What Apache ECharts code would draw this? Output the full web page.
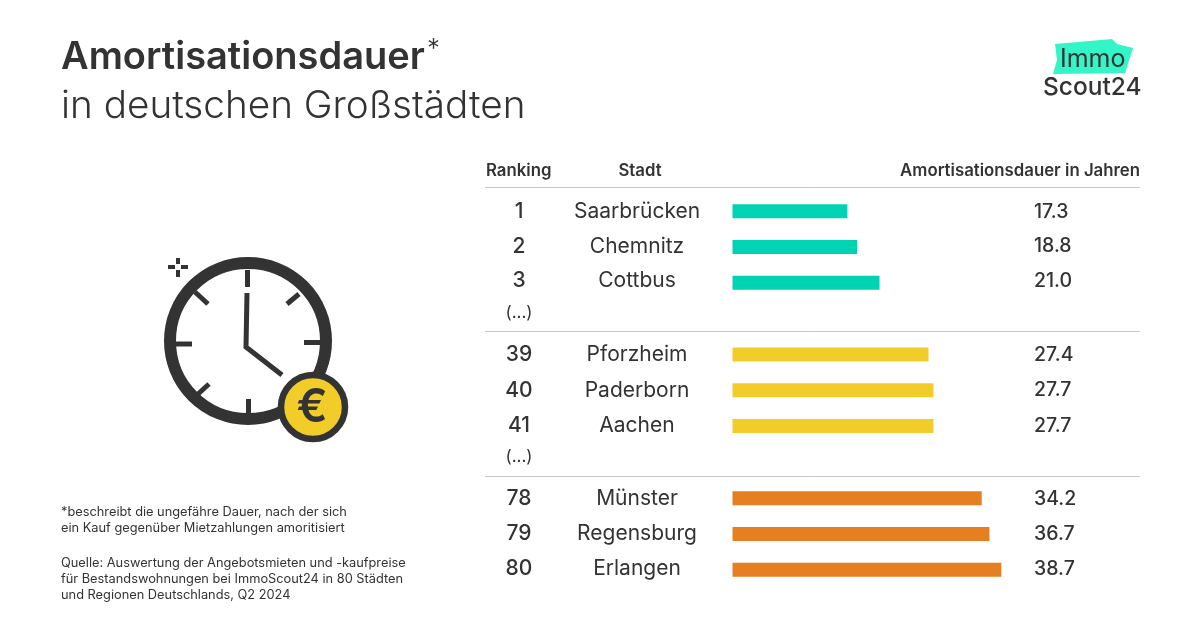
<!DOCTYPE html>
<html lang="de">
<head>
<meta charset="utf-8">
<title>Amortisationsdauer</title>
<script src="https://cdn.jsdelivr.net/npm/echarts@6/dist/echarts.min.js"></script>
<style>html,body{margin:0;padding:0;background:#fff}#c{width:1201px;height:630px}</style>
</head>
<body>
<div id="c"></div>
<script>
const ranks = ['1','2','3','39','40','41','78','79','80'];
const cities = ['Saarbrücken','Chemnitz','Cottbus','Pforzheim','Paderborn','Aachen','Münster','Regensburg','Erlangen'];
const printedYears = ['17.3','18.8','21.0','27.4','27.7','27.7','34.2','36.7','38.7'];
// bar lengths, on the chart's own scale (they do not follow the printed figures exactly)
const barLengths = [16.4,17.8,21.0,28.0,28.7,28.7,35.6,36.7,38.4];
const groupColors = ['#00D2B4','#F2CD2A','#E67E22'];
const barGridTops = [193.45,336.65,480.45];
const textGridTops = [194.5,337,481.25];
const textGridHeights = [103.5,106.5,105];
const INK = '#333333';
const FONT = 'Inter';

const grid = [], xAxis = [], yAxis = [], series = [];
for (let g = 0; g < 3; g++) {
  const part = a => a.slice(g*3, g*3+3);
  grid.push({left:732.5, width:280, top:barGridTops[g], height:107.1});
  xAxis.push({type:'value', gridIndex:g, min:0, max:40, show:false});
  yAxis.push({type:'category', gridIndex:g, inverse:true, data:part(cities), show:false});
  series.push({type:'bar', name:'Gruppe '+(g+1), xAxisIndex:g, yAxisIndex:g, data:part(barLengths),
    barWidth:14, silent:true, itemStyle:{color:groupColors[g]}});
}
for (let g = 0; g < 3; g++) {
  const part = a => a.slice(g*3, g*3+3);
  const gi = grid.length;
  grid.push({left:733, width:301, top:textGridTops[g], height:textGridHeights[g]});
  xAxis.push({type:'value', gridIndex:gi, min:0, max:40, show:false});
  const base = {type:'category', gridIndex:gi, inverse:true, axisLine:{show:false}, axisTick:{show:false}, splitLine:{show:false}};
  const lab = (margin, align, size, weight) => ({interval:0, margin, align, color:INK, fontFamily:FONT, fontSize:size, fontWeight:weight, hideOverlap:false});
  yAxis.push(Object.assign({}, base, {position:'left', data:part(ranks), axisLabel:lab(214,'center',21,500)}));
  yAxis.push(Object.assign({}, base, {position:'left', data:part(cities), axisLabel:lab(96,'center',21,400)}));
  yAxis.push(Object.assign({}, base, {position:'right', data:part(printedYears), axisLabel:lab(0,'left',19.5,500)}));
}

const txt = (x,y,text,o) => ({type:'text', x, y, silent:true, style:Object.assign({text, fill:INK, fontFamily:FONT, fontSize:15, fontWeight:400, textAlign:'left', textVerticalAlign:'middle'}, o||{})});
const rule = y => ({type:'line', silent:true, shape:{x1:485,y1:y,x2:1140,y2:y}, style:{stroke:'#C8C8C8', lineWidth:1}});
const seg = (x1,y1,x2,y2,w) => ({type:'line', silent:true, shape:{x1,y1,x2,y2}, style:{stroke:INK, lineWidth:w||5}});

const graphic = [
  rule(187.5), rule(331.5), rule(476.5),
  txt(486,170.5,'Ranking',{fontWeight:600,fontSize:16.8}),
  txt(640,170.5,'Stadt',{fontWeight:600,fontSize:16.8,textAlign:'center'}),
  txt(1140,170.5,'Amortisationsdauer in Jahren',{fontWeight:600,fontSize:16.8,textAlign:'right'}),
  txt(519,313,'(...)',{fontSize:17,textAlign:'center'}),
  txt(519,457,'(...)',{fontSize:17,textAlign:'center'}),
  // footnotes
  txt(61,512.5,'*beschreibt die ungefähre Dauer, nach der sich',{fontSize:12.8}),
  txt(61,528.5,'ein Kauf gegenüber Mietzahlungen amoritisiert',{fontSize:12.8}),
  txt(61,563.5,'Quelle: Auswertung der Angebotsmieten und -kaufpreise',{fontSize:12.8}),
  txt(61,579.5,'für Bestandswohnungen bei ImmoScout24 in 80 Städten',{fontSize:12.8}),
  txt(61,595.5,'und Regionen Deutschlands, Q2 2024',{fontSize:12.8}),
  // clock
  {type:'circle', silent:true, shape:{cx:248,cy:341,r:78}, style:{fill:'#fff',stroke:INK,lineWidth:12}},
  seg(247.5,270,247.5,287), seg(304,342.5,320,342.5), seg(176,344,192,344), seg(248.5,399,248.5,415),
  seg(195,292,208,304), seg(299,294,287,304), seg(209,384,198,394),
  {type:'polyline', silent:true, shape:{points:[[247,293],[246,347],[282,375]]}, style:{stroke:INK,lineWidth:5,fill:null}},
  seg(168,267,175,267,4), seg(181,267,188,267,4), seg(178,258,178,264,4), seg(178,270,178,277,4),
  {type:'circle', silent:true, shape:{cx:313,cy:407,r:32}, style:{fill:'#F2CD2A',stroke:INK,lineWidth:6.5}},
  txt(312,408,'€',{fontSize:46,fontWeight:600,textAlign:'center'}),
  // logo
  {type:'polygon', silent:true, shape:{points:[[1055,44],[1112,39],[1117,44],[1133,48],[1125,73],[1053,74],[1057,60]]}, style:{fill:'#33F5C8'}},
  txt(1060,59,'Immo',{fontSize:25,fontWeight:400}),
  txt(1043,88,'Scout24',{fontSize:24.5,fontWeight:500})
];

const title = [
  {text:'Amortisationsdauer', left:61, top:38.5, padding:0, textStyle:{color:INK,fontFamily:FONT,fontSize:38,fontWeight:600}},
  {text:'*', left:427, top:36, padding:0, textStyle:{color:INK,fontFamily:FONT,fontSize:26,fontWeight:300}},
  {text:'in deutschen Großstädten', left:61, top:87, padding:0, textStyle:{color:INK,fontFamily:FONT,fontSize:38.7,fontWeight:300}}
];

const chart = echarts.init(document.getElementById('c'), null, {renderer:'canvas'});
chart.setOption({animation:false, backgroundColor:'#fff', title, grid, xAxis, yAxis, series, graphic, tooltip:{show:false}});
</script>
</body>
</html>
